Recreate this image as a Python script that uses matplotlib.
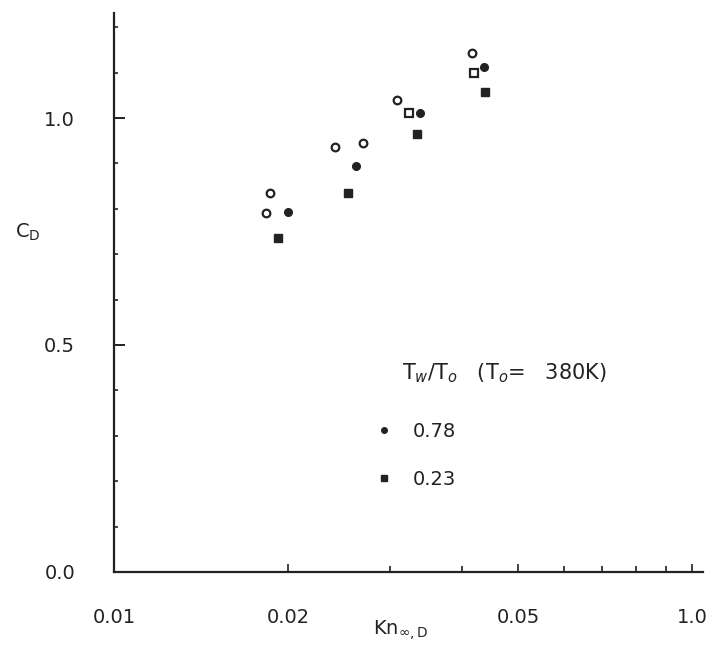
import matplotlib
matplotlib.use("Agg")
import matplotlib.pyplot as plt
from matplotlib.ticker import FixedLocator, NullFormatter
from matplotlib.lines import Line2D

# Data
kn_open_circle = [0.0186, 0.0183, 0.0241, 0.0270, 0.0309, 0.0416]
cd_open_circle = [0.835, 0.791, 0.936, 0.945, 1.040, 1.143]

kn_open_square = [0.0324, 0.0420]
cd_open_square = [1.011, 1.099]

kn_078 = [0.0200, 0.0262, 0.0338, 0.0437]
cd_078 = [0.793, 0.894, 1.011, 1.112]

kn_023 = [0.0192, 0.0254, 0.0334, 0.0438]
cd_023 = [0.736, 0.835, 0.965, 1.057]

x_tick_vals = [0.01, 0.02, 0.05, 0.1]
x_tick_labels = ["0.01", "0.02", "0.05", "1.0"]
x_minor_vals = [0.03, 0.04, 0.06, 0.07, 0.08, 0.09]
y_tick_vals = [0.0, 0.5, 1.0]
y_tick_labels = ["0.0", "0.5", "1.0"]
y_minor_vals = [0.1, 0.2, 0.3, 0.4, 0.6, 0.7, 0.8, 0.9, 1.1, 1.2]

plt.rcParams['font.family'] = ['DejaVu Sans']
fig = plt.figure(figsize=(7.06, 6.57), dpi=100)
ax = fig.add_axes([0.1615, 0.1294, 0.8343, 0.8506])
ink = "#222222"

ax.set_xscale("log")
ax.set_xlim(0.01, 0.1045)
ax.set_ylim(0.0, 1.231)

ax.plot(kn_open_circle, cd_open_circle, linestyle="none", marker="o", ms=5.5,
        mfc="white", mec=ink, mew=1.6)
ax.plot(kn_open_square, cd_open_square, linestyle="none", marker="s", ms=5.5,
        mfc="white", mec=ink, mew=1.6)
ax.plot(kn_078, cd_078, linestyle="none", marker="o", ms=5.5,
        mfc=ink, mec=ink, label="0.78")
ax.plot(kn_023, cd_023, linestyle="none", marker="s", ms=5.5,
        mfc=ink, mec=ink, label="0.23")

for s in ["top", "right"]:
    ax.spines[s].set_visible(False)
for s in ["left", "bottom"]:
    ax.spines[s].set_linewidth(1.6)
    ax.spines[s].set_color(ink)

ax.xaxis.set_major_locator(FixedLocator(x_tick_vals))
ax.set_xticklabels(x_tick_labels)
ax.xaxis.set_minor_locator(FixedLocator(x_minor_vals))
ax.xaxis.set_minor_formatter(NullFormatter())
ax.yaxis.set_major_locator(FixedLocator(y_tick_vals))
ax.set_yticklabels(y_tick_labels)
ax.yaxis.set_minor_locator(FixedLocator(y_minor_vals))

ax.tick_params(axis="x", which="major", direction="in", length=6, width=1.2,
               pad=26, labelsize=14, colors=ink)
ax.tick_params(axis="x", which="minor", direction="in", length=4, width=1.2, colors=ink)
ax.tick_params(axis="y", which="major", direction="in", length=8, width=1.4,
               pad=28, labelsize=14, colors=ink)
ax.tick_params(axis="y", which="minor", direction="in", length=3, width=1.2, colors=ink)

ax.set_xlabel(r"Kn$_{\infty,\mathrm{D}}$", fontsize=14, color=ink)
ax.xaxis.set_label_coords(0.486, -0.083)
ax.set_ylabel(r"C$_\mathrm{D}$", fontsize=14, color=ink, rotation=0, va="center")
ax.yaxis.set_label_coords(-0.146, 0.608)

ax.text(0.489, 0.356, r"T$_w$/T$_o$   (T$_o$=   380K)", transform=ax.transAxes,
        fontsize=15, color=ink, va="center", ha="left")
handles = [Line2D([], [], linestyle="none", marker="o", ms=4, mfc=ink, mec=ink),
           Line2D([], [], linestyle="none", marker="s", ms=4, mfc=ink, mec=ink)]
ax.legend(handles, ["0.78", "0.23"], loc="upper left", bbox_to_anchor=(0.412, 0.30),
          frameon=False, fontsize=14, handlelength=1.0, handletextpad=1.0,
          labelspacing=1.5, labelcolor=ink)

fig.savefig("out.png", dpi=100, facecolor="white")
